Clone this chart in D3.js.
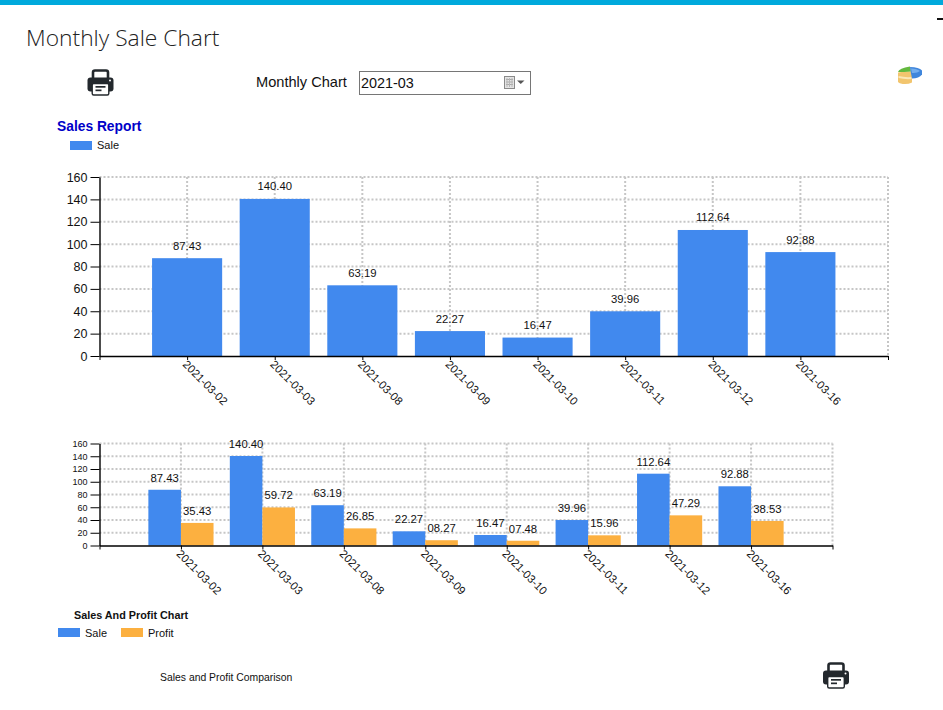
<!DOCTYPE html>
<html>
<head>
<meta charset="utf-8">
<title>Monthly Sale Chart</title>
<script src="https://cdn.jsdelivr.net/npm/d3@7"></script>
<style>
html, body { margin: 0; padding: 0; background: #fff; overflow: hidden; }
svg { display: block; }
text { font-family: "Liberation Sans", Arial, sans-serif; fill: #111; }
</style>
</head>
<body>
<svg id="page" width="943" height="710"></svg>
<script>
// datos
var dates = ['2021-03-02', '2021-03-03', '2021-03-08', '2021-03-09', '2021-03-10', '2021-03-11', '2021-03-12', '2021-03-16'];
var sale = [87.43, 140.40, 63.19, 22.27, 16.47, 39.96, 112.64, 92.88];
var profit = [35.43, 59.72, 26.85, 8.27, 7.48, 15.96, 47.29, 38.53];
var saleLabels = ['87.43', '140.40', '63.19', '22.27', '16.47', '39.96', '112.64', '92.88'];
var profitLabels = ['35.43', '59.72', '26.85', '08.27', '07.48', '15.96', '47.29', '38.53'];
var yTicks = [0, 20, 40, 60, 80, 100, 120, 140, 160];

var BLUE = '#4189ee';
var ORANGE = '#fcb040';
var svg = d3.select('#page');

// barra superior
svg.append('rect').attr('x', 0).attr('y', 0).attr('width', 943).attr('height', 5).attr('fill', '#00a9dc');
svg.append('rect').attr('x', 937).attr('y', 18).attr('width', 6).attr('height', 2).attr('fill', '#111');

svg.append('text').attr('x', 26).attr('y', 46)
	.style('font-family', '"Open Sans", sans-serif').style('font-weight', 300).style('font-size', '22.8px')
	.style('fill', '#222').text('Monthly Sale Chart');

// impresora
function printer(x, y) {
	var g = svg.append('g').attr('transform', 'translate(' + x + ',' + y + ')');
	g.append('path').attr('fill', 'none').attr('stroke', '#23282d').attr('stroke-width', 2.6)
		.attr('d', 'M5.5 10V3a2 2 0 0 1 2-2h11a2 2 0 0 1 2 2V10');
	g.append('rect').attr('x', 0).attr('y', 8).attr('width', 26).attr('height', 14).attr('rx', 3).attr('fill', '#23282d');
	g.append('rect').attr('x', 4.7).attr('y', 14).attr('width', 16.6).attr('height', 11.5).attr('rx', 1.5).attr('fill', '#fff').attr('stroke', '#23282d').attr('stroke-width', 1.4);
	g.append('rect').attr('x', 8).attr('y', 16.5).attr('width', 10).attr('height', 1.7).attr('fill', '#23282d');
	g.append('rect').attr('x', 8).attr('y', 20).attr('width', 6).attr('height', 1.7).attr('fill', '#23282d');
	g.append('circle').attr('cx', 22.5).attr('cy', 11).attr('r', 1).attr('fill', '#fff');
}
printer(87.5, 69.5);
printer(823, 662.5);

// selector de mes
svg.append('text').attr('x', 256).attr('y', 87).style('font-size', '14.6px').text('Monthly Chart');
svg.append('rect').attr('x', 359.5).attr('y', 71.5).attr('width', 171).attr('height', 23).attr('fill', '#fff').attr('stroke', '#767676');
svg.append('text').attr('x', 361).attr('y', 88).style('font-size', '14.4px').text('2021-03');

// icono de calendario
var cal = svg.append('g');
cal.append('rect').attr('x', 504.5).attr('y', 76.5).attr('width', 10).attr('height', 12).attr('fill', '#e4e4e4').attr('stroke', '#8a8a8a');
cal.selectAll('.f').data([79.5, 82, 84.5]).enter().append('line')
	.attr('x1', 506).attr('x2', 513).attr('y1', function(d) { return d; }).attr('y2', function(d) { return d; })
	.attr('stroke', '#a8a8a8');
cal.selectAll('.c').data([507, 509.5, 512]).enter().append('line')
	.attr('y1', 78).attr('y2', 87).attr('x1', function(d) { return d; }).attr('x2', function(d) { return d; })
	.attr('stroke', '#b8b8b8');
svg.append('path').attr('d', 'M517 80.5h7.5l-3.75 3.5z').attr('fill', '#555');

// icono de torta
var pie = svg.append('g');
pie.append('path').attr('d', 'M898 72.5q7-1.5 14-1v11q-3 1.5-7 1.5q-5 0-7-2z').attr('fill', '#f2c56e');
pie.append('path').attr('d', 'M898.5 76q6 1.5 13 1v2q-7 .5-13-1z').attr('fill', '#fbe8b8');
pie.append('path').attr('d', 'M898 72q1-4 12-5.5l1 5q-7 .5-13 .5z').attr('fill', '#63b93e');
pie.append('path').attr('d', 'M910 67q9 0 12 3.5v4q-3 4-10 4l-1-5z').attr('fill', '#3f86dc');
pie.append('path').attr('d', 'M911 68.5q6 0 9 2.5q-3 2.5-8 2z').attr('fill', '#74aeee');

// titulos y leyendas
svg.append('text').attr('x', 57).attr('y', 131).style('font-size', '13.8px').style('font-weight', 'bold').style('fill', '#0000c8').text('Sales Report');
svg.append('rect').attr('x', 70).attr('y', 141).attr('width', 22).attr('height', 9).attr('fill', BLUE);
svg.append('text').attr('x', 97).attr('y', 149).style('font-size', '11px').text('Sale');

svg.append('text').attr('x', 74).attr('y', 619).style('font-size', '10.8px').style('font-weight', 'bold').text('Sales And Profit Chart');
svg.append('rect').attr('x', 58).attr('y', 628).attr('width', 22).attr('height', 9).attr('fill', BLUE);
svg.append('text').attr('x', 85).attr('y', 637).style('font-size', '11px').text('Sale');
svg.append('rect').attr('x', 121).attr('y', 628).attr('width', 22).attr('height', 9).attr('fill', ORANGE);
svg.append('text').attr('x', 148).attr('y', 637).style('font-size', '11px').text('Profit');
svg.append('text').attr('x', 160).attr('y', 681).style('font-size', '10.4px').text('Sales and Profit Comparison');

// dibuja un grafico: series = [{values, labels, color}]
function drawChart(box, series, tickSize, labelGap) {
	var x = d3.scaleLinear().domain([0, dates.length + 1]).range([box.left, box.right]);
	var y = d3.scaleLinear().domain([0, 160]).range([box.bottom, box.top]);
	var g = svg.append('g');
	var groupWidth = x(0.8) - x(0);
	var barWidth = groupWidth / series.length;

	// grilla punteada
	var grid = g.append('g').attr('stroke', '#c6c6c6').attr('stroke-width', 2).attr('stroke-dasharray', '2,2');
	grid.selectAll('.h').data(yTicks.slice(1)).enter().append('line')
		.attr('x1', box.left).attr('x2', box.right)
		.attr('y1', function(d) { return y(d); }).attr('y2', function(d) { return y(d); });
	grid.selectAll('.v').data(d3.range(1, dates.length + 2)).enter().append('line')
		.attr('x1', function(d) { return x(d); }).attr('x2', function(d) { return x(d); })
		.attr('y1', box.top).attr('y2', box.bottom);

	// barras
	series.forEach(function(s, k) {
		g.append('g').selectAll('rect').data(s.values).enter().append('rect')
			.attr('x', function(d, i) { return x(i + 1) - groupWidth / 2 + k * barWidth; })
			.attr('width', barWidth)
			.attr('y', function(d) { return y(d); })
			.attr('height', function(d) { return box.bottom - y(d); })
			.attr('fill', s.color);
		g.append('g').selectAll('text').data(s.values).enter().append('text')
			.attr('x', function(d, i) { return x(i + 1) - groupWidth / 2 + (k + 0.5) * barWidth; })
			.attr('y', function(d) { return y(d) - labelGap; })
			.attr('text-anchor', 'middle')
			.style('font-size', '11.3px')
			.text(function(d, i) { return s.labels[i]; });
	});

	// ejes
	var yAxis = g.append('g').attr('transform', 'translate(' + box.left + ',0)')
		.call(d3.axisLeft(y).tickValues(yTicks).tickSize(9).tickSizeOuter(0).tickPadding(3));
	yAxis.selectAll('text').style('font-size', tickSize + 'px');

	var xAxis = g.append('g').attr('transform', 'translate(0,' + box.bottom + ')')
		.call(d3.axisBottom(x).tickValues(d3.range(0, dates.length + 2)).tickSize(4).tickSizeOuter(0)
			.tickFormat(function(d, i) { return dates[i - 1] || ''; }));
	xAxis.selectAll('text')
		.style('font-size', '11.3px')
		.attr('text-anchor', 'start')
		.attr('dy', 0)
		.attr('y', 0)
		.attr('transform', 'translate(-3.5,7) rotate(45)')
		.attr('dominant-baseline', 'middle');
	g.selectAll('.domain').attr('stroke', '#000').attr('stroke-width', 1.4);
	g.selectAll('.tick line').attr('stroke', '#000');
}

drawChart({ left: 99.5, right: 888, top: 177, bottom: 356 },
	[{ values: sale, labels: saleLabels, color: BLUE }], 12.5, 8.5);

drawChart({ left: 99.5, right: 832.5, top: 443.5, bottom: 545.5 },
	[{ values: sale, labels: saleLabels, color: BLUE },
	 { values: profit, labels: profitLabels, color: ORANGE }], 9, 8);
</script>
</body>
</html>
